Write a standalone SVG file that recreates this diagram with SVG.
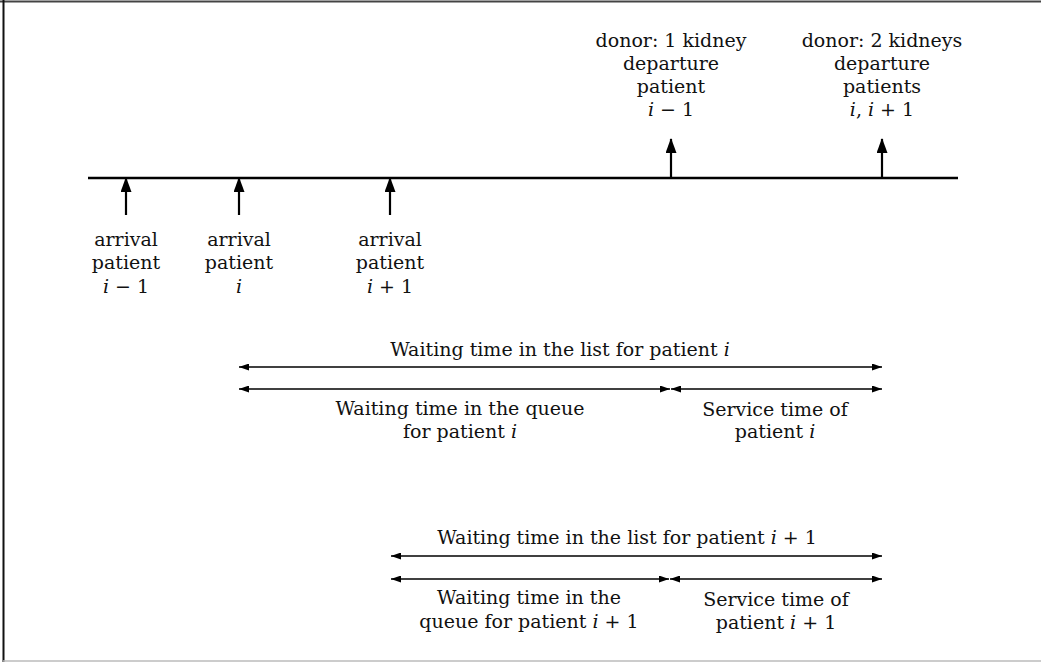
<svg xmlns="http://www.w3.org/2000/svg" width="1041" height="662" viewBox="0 0 1041 662">
<style>
text{font-family:"DejaVu Serif","Liberation Serif",serif;font-size:19px;fill:#111;text-anchor:middle}
.m{font-style:italic}
.tl{stroke:#000;stroke-width:2.5;fill:none}
.va{stroke:#000;stroke-width:2.2;fill:none;marker-end:url(#big)}
.ha{stroke:#000;stroke-width:1.6;fill:none;marker-start:url(#sm);marker-end:url(#sm)}
</style>
<defs>
<marker id="big" viewBox="0 0 15 11" refX="14" refY="5.5" markerWidth="15" markerHeight="11" markerUnits="userSpaceOnUse" orient="auto"><path d="M0,0 L15,5.5 L0,11 z" fill="#000"/></marker>
<marker id="sm" viewBox="0 0 10 7" refX="10" refY="3.5" markerWidth="10" markerHeight="7" markerUnits="userSpaceOnUse" orient="auto-start-reverse"><path d="M0,0 L10,3.5 L0,7 z" fill="#000"/></marker>
</defs>
<rect x="0" y="0" width="1041" height="662" fill="#fff"/>
<g id="frame">
<line x1="0" y1="1.5" x2="1041" y2="1.5" stroke="#444" stroke-width="2"/>
<line x1="3.5" y1="0" x2="3.5" y2="662" stroke="#111" stroke-width="2"/>
<line x1="3" y1="661" x2="1041" y2="661" stroke="#bbb" stroke-width="1.5"/>
</g>
<g id="connectors">
<line class="tl" x1="88" y1="178" x2="958" y2="178"/>
<line class="va" x1="126" y1="215" x2="126" y2="178"/>
<line class="va" x1="239" y1="215" x2="239" y2="178"/>
<line class="va" x1="390" y1="215" x2="390" y2="178"/>
<line class="va" x1="671" y1="178" x2="671" y2="139"/>
<line class="va" x1="882" y1="178" x2="882" y2="139"/>
<line class="ha" x1="239" y1="367" x2="882" y2="367"/>
<line class="ha" x1="239" y1="389" x2="670" y2="389"/>
<line class="ha" x1="671" y1="389" x2="882" y2="389"/>
<line class="ha" x1="391" y1="556" x2="882" y2="556"/>
<line class="ha" x1="391" y1="579" x2="669" y2="579"/>
<line class="ha" x1="670" y1="579" x2="882" y2="579"/>
</g>
<g id="dep1">
<text x="671" y="47">donor: 1 kidney</text>
<text x="671" y="70">departure</text>
<text x="671" y="93">patient</text>
<text x="671" y="116"><tspan class="m">i</tspan> − 1</text>
</g>
<g id="dep2">
<text x="882" y="47">donor: 2 kidneys</text>
<text x="882" y="70">departure</text>
<text x="882" y="93">patients</text>
<text x="882" y="116"><tspan class="m">i</tspan>, <tspan class="m">i</tspan> + 1</text>
</g>
<g id="arr1">
<text x="126" y="246">arrival</text>
<text x="126" y="269">patient</text>
<text x="126" y="293"><tspan class="m">i</tspan> − 1</text>
</g>
<g id="arr2">
<text x="239" y="246">arrival</text>
<text x="239" y="269">patient</text>
<text x="239" y="293" class="m">i</text>
</g>
<g id="arr3">
<text x="390" y="246">arrival</text>
<text x="390" y="269">patient</text>
<text x="390" y="293"><tspan class="m">i</tspan> + 1</text>
</g>
<g id="list-i">
<text x="560" y="356">Waiting time in the list for patient <tspan class="m">i</tspan></text>
</g>
<g id="queue-i">
<text x="460" y="415">Waiting time in the queue</text>
<text x="460" y="438">for patient <tspan class="m">i</tspan></text>
</g>
<g id="service-i">
<text x="775" y="416">Service time of</text>
<text x="775" y="438">patient <tspan class="m">i</tspan></text>
</g>
<g id="list-i1">
<text x="627" y="544">Waiting time in the list for patient <tspan class="m">i</tspan> + 1</text>
</g>
<g id="queue-i1">
<text x="529" y="604">Waiting time in the</text>
<text x="529" y="628">queue for patient <tspan class="m">i</tspan> + 1</text>
</g>
<g id="service-i1">
<text x="776" y="606">Service time of</text>
<text x="776" y="629">patient <tspan class="m">i</tspan> + 1</text>
</g>
</svg>
